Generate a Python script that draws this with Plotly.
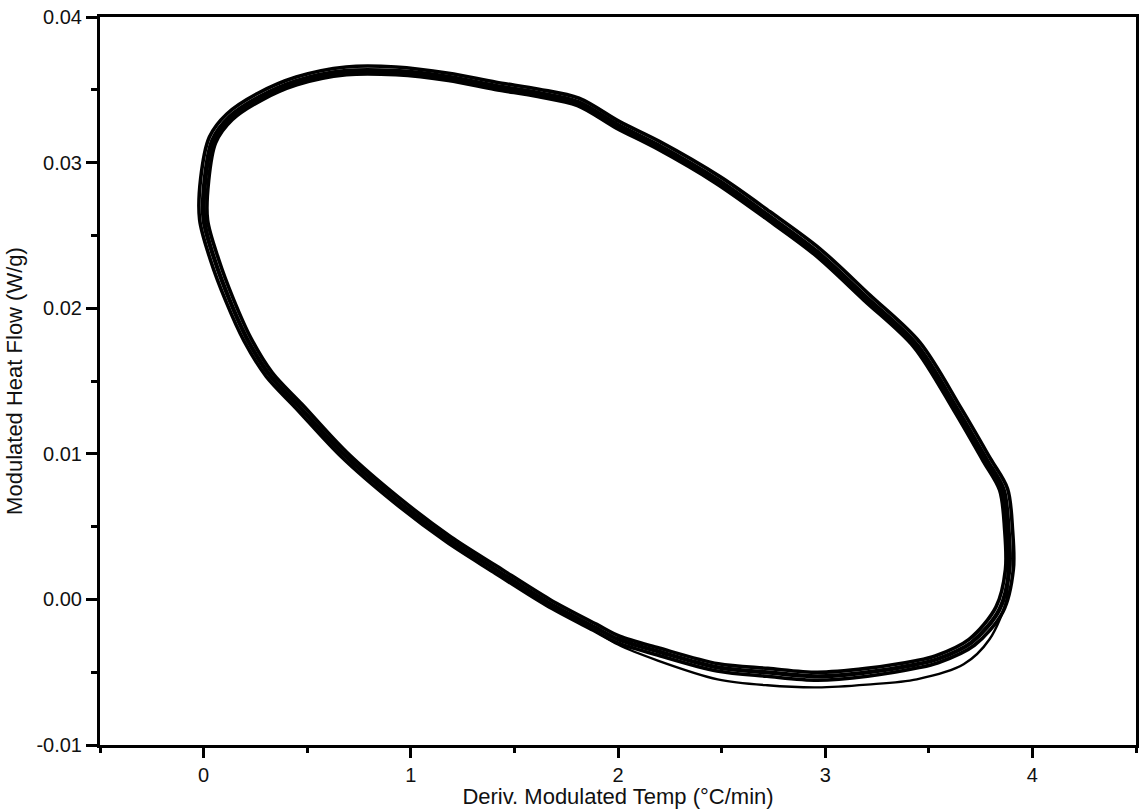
import plotly.graph_objects as go

# Cycle 1 (centre of band)
c1_x = [0.000, 0.005, 0.043, 0.125, 0.269, 0.447, 0.688, 0.928, 1.183, 1.409, 1.615, 1.808,
        2.000, 2.192, 2.481, 2.721, 2.962, 3.202, 3.442, 3.639, 3.779, 3.861, 3.885, 3.889,
        3.841, 3.707, 3.538, 3.442, 3.202, 2.962, 2.721, 2.481, 2.192, 2.000, 1.889, 1.663,
        1.409, 1.183, 0.928, 0.678, 0.462, 0.317, 0.212, 0.125, 0.053, 0.000]
c1_y = [0.02607, 0.02882, 0.03156, 0.03314, 0.03451, 0.03561, 0.03630, 0.03630, 0.03589, 0.03527,
        0.03479, 0.03417, 0.03259, 0.03122, 0.02882, 0.02642, 0.02388, 0.02072, 0.01750, 0.01304,
        0.00961, 0.00755, 0.00480, 0.00206, -0.00069, -0.00295, -0.00412, -0.00446, -0.00501,
        -0.00528, -0.00501, -0.00467, -0.00357, -0.00274, -0.00192, -0.00021, 0.00206, 0.00412,
        0.00686, 0.00995, 0.01324, 0.01544, 0.01784, 0.02058, 0.02333, 0.02607]

# Cycle 2 (outer edge of band)
c2_x = [-0.019, -0.014, 0.028, 0.112, 0.262, 0.447, 0.688, 0.928, 1.183, 1.412, 1.618, 1.812,
        2.008, 2.202, 2.494, 2.734, 2.975, 3.216, 3.457, 3.655, 3.797, 3.880, 3.904, 3.908,
        3.858, 3.720, 3.545, 3.447, 3.204, 2.962, 2.719, 2.478, 2.186, 1.992, 1.880, 1.653,
        1.398, 1.172, 0.916, 0.665, 0.448, 0.302, 0.195, 0.107, 0.034, -0.019]
c2_y = [0.02607, 0.02892, 0.03176, 0.03334, 0.03476, 0.03588, 0.03657, 0.03657, 0.03614, 0.03552,
        0.03504, 0.03442, 0.03281, 0.03144, 0.02902, 0.02662, 0.02408, 0.02090, 0.01765, 0.01315,
        0.00968, 0.00760, 0.00480, 0.00206, -0.00085, -0.00315, -0.00435, -0.00470, -0.00528,
        -0.00555, -0.00528, -0.00492, -0.00380, -0.00295, -0.00212, -0.00040, 0.00188, 0.00395,
        0.00670, 0.00980, 0.01310, 0.01532, 0.01775, 0.02050, 0.02328, 0.02607]

# Cycle 3 (inner edge of band)
c3_x = [0.019, 0.024, 0.058, 0.138, 0.276, 0.450, 0.690, 0.928, 1.181, 1.406, 1.612, 1.804,
        1.992, 2.182, 2.468, 2.708, 2.949, 3.188, 3.427, 3.623, 3.761, 3.842, 3.866, 3.870,
        3.824, 3.694, 3.531, 3.437, 3.200, 2.962, 2.723, 2.484, 2.198, 2.008, 1.898, 1.673,
        1.420, 1.194, 0.940, 0.691, 0.476, 0.332, 0.229, 0.143, 0.072, 0.019]
c3_y = [0.02607, 0.02872, 0.03136, 0.03294, 0.03426, 0.03534, 0.03603, 0.03603, 0.03564, 0.03502,
        0.03454, 0.03392, 0.03237, 0.03100, 0.02862, 0.02622, 0.02368, 0.02054, 0.01735, 0.01293,
        0.00954, 0.00750, 0.00480, 0.00206, -0.00053, -0.00275, -0.00389, -0.00422, -0.00474,
        -0.00501, -0.00474, -0.00442, -0.00334, -0.00253, -0.00172, -0.00002, 0.00224, 0.00429,
        0.00702, 0.01010, 0.01338, 0.01556, 0.01793, 0.02066, 0.02338, 0.02607]

# Cycle 4 (first cycle, dips lower at the bottom right)
c4_x = [0.008, 0.012, 0.050, 0.130, 0.272, 0.448, 0.689, 0.928, 1.182, 1.408, 1.614, 1.806,
        1.996, 2.188, 2.476, 2.716, 2.956, 3.196, 3.436, 3.632, 3.770, 3.851, 3.876, 3.880,
        3.875, 3.793, 3.668, 3.442, 3.202, 2.962, 2.721, 2.481, 2.192, 2.000, 1.889, 1.663,
        1.409, 1.183, 0.928, 0.678, 0.462, 0.317, 0.212, 0.125, 0.053, 0.008]
c4_y = [0.02607, 0.02878, 0.03146, 0.03304, 0.03440, 0.03548, 0.03618, 0.03618, 0.03576, 0.03515,
        0.03466, 0.03404, 0.03248, 0.03111, 0.02872, 0.02632, 0.02378, 0.02062, 0.01742, 0.01298,
        0.00957, 0.00752, 0.00480, 0.00180, 0.00000, -0.00274, -0.00446, -0.00549, -0.00585,
        -0.00604, -0.00590, -0.00549, -0.00420, -0.00310, -0.00215, -0.00030, 0.00200, 0.00405,
        0.00680, 0.00990, 0.01318, 0.01540, 0.01780, 0.02055, 0.02330, 0.02607]

cycles = [(c1_x, c1_y, 4.2), (c2_x, c2_y, 3.6), (c3_x, c3_y, 3.6), (c4_x, c4_y, 2.4)]

x_tickvals = [0, 1, 2, 3, 4]
x_ticktext = ["0", "1", "2", "3", "4"]
y_tickvals = [-0.01, 0.00, 0.01, 0.02, 0.03, 0.04]
y_ticktext = ["-0.01", "0.00", "0.01", "0.02", "0.03", "0.04"]

fig = go.Figure()
for cx, cy, w in cycles:
    fig.add_trace(go.Scatter(x=cx, y=cy, mode="lines",
                             line=dict(color="black", width=w, shape="spline", smoothing=0.9),
                             showlegend=False, hoverinfo="skip"))

font_family = "Liberation Sans, Arial, sans-serif"
fig.update_layout(
    width=1141, height=809, autosize=False,
    margin=dict(l=100, r=2, t=17, b=64, pad=0),
    paper_bgcolor="white", plot_bgcolor="white",
    font=dict(family=font_family, size=20, color="black"),
    showlegend=False,
)
fig.update_xaxes(
    range=[-0.5, 4.5], showgrid=False, zeroline=False,
    showline=True, linecolor="black", linewidth=3, mirror=True,
    tickmode="array", tickvals=x_tickvals, ticktext=x_ticktext,
    ticks="outside", ticklen=10, tickwidth=3, tickcolor="black",
    tickfont=dict(size=20, family=font_family, color="#111"),
    minor=dict(dtick=0.5, ticks="outside", ticklen=5, tickwidth=3, tickcolor="black"),
    title=dict(text="Deriv. Modulated Temp (°C/min)", font=dict(size=22, family=font_family, color="#111"), standoff=4),
)
fig.update_yaxes(
    range=[-0.01, 0.04], showgrid=False, zeroline=False,
    showline=True, linecolor="black", linewidth=3, mirror=True,
    tickmode="array", tickvals=y_tickvals, ticktext=y_ticktext,
    ticks="outside", ticklen=11, tickwidth=3, tickcolor="black",
    tickfont=dict(size=20, family=font_family, color="#111"),
    minor=dict(dtick=0.005, ticks="outside", ticklen=6, tickwidth=3, tickcolor="black"),
    title=dict(text="Modulated Heat Flow (W/g)", font=dict(size=22, family=font_family, color="#111"), standoff=8),
)

fig.write_html("out.html", config={"displayModeBar": False},
               post_script="document.body.style.margin='0';")
